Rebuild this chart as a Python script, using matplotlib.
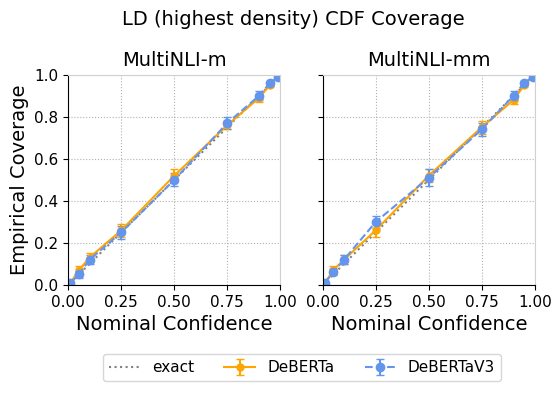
import matplotlib
matplotlib.use("Agg")
import matplotlib.pyplot as plt

nominal = [0.01, 0.05, 0.1, 0.25, 0.5, 0.75, 0.9, 0.95, 0.99]

m_deberta = [0.01, 0.07, 0.13, 0.26, 0.52, 0.76, 0.89, 0.95, 0.99]
m_deberta_err = [0.005, 0.02, 0.02, 0.03, 0.03, 0.02, 0.02, 0.01, 0.005]
m_v3 = [0.01, 0.05, 0.12, 0.25, 0.50, 0.77, 0.90, 0.96, 0.99]
m_v3_err = [0.005, 0.015, 0.02, 0.03, 0.03, 0.03, 0.02, 0.01, 0.005]

mm_deberta = [0.01, 0.07, 0.12, 0.26, 0.52, 0.75, 0.88, 0.95, 0.99]
mm_deberta_err = [0.005, 0.02, 0.02, 0.03, 0.03, 0.03, 0.02, 0.01, 0.005]
mm_v3 = [0.01, 0.06, 0.12, 0.30, 0.51, 0.74, 0.90, 0.96, 0.99]
mm_v3_err = [0.005, 0.015, 0.02, 0.03, 0.04, 0.03, 0.02, 0.01, 0.005]

panels = [("MultiNLI-m", m_deberta, m_deberta_err, m_v3, m_v3_err),
          ("MultiNLI-mm", mm_deberta, mm_deberta_err, mm_v3, mm_v3_err)]

fig, axes = plt.subplots(1, 2, figsize=(5.6, 3.93), dpi=100, sharey=True)
for ax, (title, d, de, v, ve) in zip(axes, panels):
    ax.plot([0, 1], [0, 1], ls=":", color="gray", label="exact")
    ax.errorbar(nominal, d, yerr=de, color="orange", marker="o", ms=5,
                capsize=3, label="DeBERTa")
    ax.errorbar(nominal, v, yerr=ve, color="cornflowerblue", marker="o", ms=6,
                ls="--", capsize=3, label="DeBERTaV3")
    ax.set_xlim(0, 1)
    ax.set_ylim(0, 1)
    ax.set_xticks([0, 0.25, 0.5, 0.75, 1.0])
    ax.set_yticks([0, 0.2, 0.4, 0.6, 0.8, 1.0])
    ax.grid(True, ls=":", color="#b0b0b0")
    ax.set_title(title, fontsize=14)
    ax.set_xlabel("Nominal Confidence", fontsize=14)
    ax.tick_params(labelsize=11)
    for s in ("top", "right"):
        ax.spines[s].set_color("#d0d0d0")
axes[0].set_ylabel("Empirical Coverage", fontsize=14)

fig.suptitle("LD (highest density) CDF Coverage", fontsize=14, x=0.523, y=0.975)
handles, labels = axes[0].get_legend_handles_labels()
fig.legend(handles, labels, loc="lower center", ncol=3, fontsize=11,
           bbox_to_anchor=(0.539, 0.01))
fig.subplots_adjust(left=0.122, right=0.955, top=0.81, bottom=0.275, wspace=0.2)
fig.savefig("out.png")
